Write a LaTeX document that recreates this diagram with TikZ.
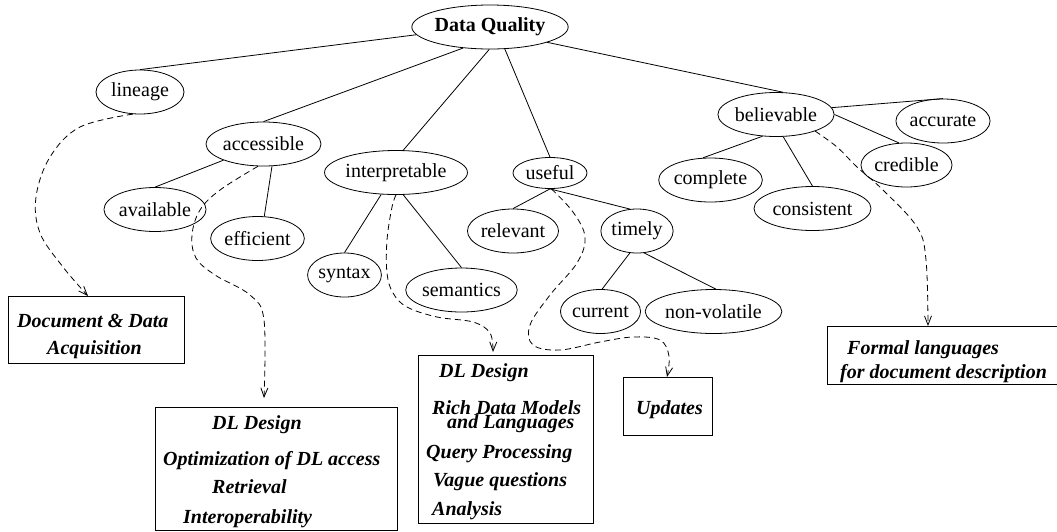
\documentclass[tikz,border=0pt]{standalone}
\usepackage{fontspec}
\setmainfont{Liberation Serif}
\usepackage{tikz}
\usetikzlibrary{calc,arrows.meta,shapes.geometric}
\tikzset{
  ov/.style={ellipse,draw,line width=0.8pt,inner sep=0pt,minimum height=44pt,font=\fontsize{20}{24}\selectfont},
  bx/.style={draw,line width=0.8pt,inner sep=0pt,anchor=north west},
  tx/.style={anchor=base west,inner sep=0pt,font=\fontsize{20}{24}\selectfont\bfseries\itshape},
  ln/.style={line width=0.8pt},
  ar/.style={-{Straight Barb[length=9pt,width=7pt]},line width=0.8pt,dash pattern=on 6pt off 4pt}
}
\begin{document}
\begin{tikzpicture}[x=1pt,y=-1pt]
\clip (0,0) rectangle (1057,531);
% quality tree
\node[ov,minimum width=146pt] (dq) at (490,27) {\bfseries Data Quality};
\node[ov,minimum width=88pt] (lin) at (140,92) {lineage};
\node[ov,minimum width=115pt] (acc) at (263.5,144) {accessible};
\node[ov,minimum width=88pt] (avail) at (155,209.5) {available};
\node[ov,minimum width=89pt] (eff) at (257.5,238.5) {efficient};
\node[ov,minimum width=132pt] (interp) at (396,172.5) {interpretable};
\node[ov,minimum width=73pt] (syn) at (344.5,275) {syntax};
\node[ov,minimum width=103pt] (sem) at (461.5,290) {semantics};
\node[ov,minimum width=74pt,minimum height=31pt] (use) at (550,173) {useful};
\node[ov,minimum width=88pt] (rel) at (513,231) {relevant};
\node[ov,minimum width=72pt] (tim) at (637,231) {timely};
\node[ov,minimum width=73pt] (cur) at (600.5,311.5) {current};
\node[ov,minimum width=109pt] (nonv) at (713.5,311.5) {non-volatile};
\node[ov,minimum width=116pt] (bel) at (776,114.5) {believable};
\node[ov,minimum width=87pt] (comp) at (710.5,180) {complete};
\node[ov,minimum width=117pt] (cons) at (812.5,208.5) {consistent};
\node[ov,minimum width=87pt] (cred) at (906.5,165) {credible};
\node[ov,minimum width=88pt] (accu) at (943,121) {accurate};

\draw[ln] (dq.186) -- (lin.north);
\draw[ln] (dq.218) -- (acc.north);
\draw[ln] (dq.268) -- (interp.72);
\draw[ln] (dq.304) -- (use.north);
\draw[ln] (dq.345) -- (bel.72);
\draw[ln] (acc.202) -- (avail.north);
\draw[ln] (acc.291) -- (eff.73);
\draw[ln] (interp.236) -- (syn.north);
\draw[ln] (interp.288) -- (sem.north);
\draw[ln] (use.south) -- (rel.north);
\draw[ln] (use.south) -- (tim.108);
\draw[ln] (tim.252) -- (cur.86);
\draw[ln] (tim.288) -- (nonv.84);
\draw[ln] (bel.238) -- (comp.109);
\draw[ln] (bel.288) -- (cons.north);
\draw[ln] (bel.east) -- (cred.109);
\draw[ln] (bel.7) -- (accu.north);

% DL topics
\node[bx,minimum width=176pt,minimum height=67pt] (b1) at (8,296) {};
\node[tx] (t1a) at (17,327) {Document \& Data};
\node[tx] (t1b) at (47,354) {Acquisition};

\node[bx,minimum width=242pt,minimum height=123pt] (b2) at (155,407) {};
\node[tx] (t2a) at (212,429) {DL Design};
\node[tx] (t2b) at (163,465) {Optimization of DL access};
\node[tx] (t2c) at (212,493) {Retrieval};
\node[tx] (t2d) at (183,523) {Interoperability};

\node[bx,minimum width=175pt,minimum height=168pt] (b3) at (418,355) {};
\node[tx] (t3a) at (439,377) {DL Design};
\node[tx] (t3b) at (432,414) {Rich Data Models};
\node[tx] (t3c) at (447,428) {and Languages};
\node[tx] (t3d) at (426,458) {Query Processing};
\node[tx] (t3e) at (433,486) {Vague questions};
\node[tx] (t3f) at (432,515) {Analysis};

\node[bx,minimum width=89pt,minimum height=58pt] (b4) at (623,377) {};
\node[tx] (t4) at (636,414) {Updates};

\node[bx,minimum width=250pt,minimum height=58pt] (b5) at (827,326) {};
\node[tx] (t5a) at (847,354) {Formal languages};
\node[tx] (t5b) at (840,378) {for document description};

\coordinate (e1) at ($(b1.north west)+(80,0)$);
\coordinate (e2) at ($(b2.north west)+(109,-9)$);
\coordinate (e3) at ($(b3.north west)+(75,-3)$);
\coordinate (e4) at ($(b4.north west)+(44,0)$);
\coordinate (e5) at ($(b5.north west)+(101,0)$);

\draw[ar] plot[smooth,tension=0.6] coordinates {(lin.252) (80,127) (50,157) (36,197) (40,233) (63,267) (e1)};
\draw[ar] plot[smooth,tension=0.6] coordinates {(acc.256) (220,190) (200,210) (192,235) (196,258) (215,275) (250,295) (264,320) (e2)};
\draw[ar] plot[smooth,tension=0.6] coordinates {(interp.south) (392,207) (387,240) (387,273) (393,293) (407,307) (437,317) (473,322) (490,333) (e3)};
\draw[ar] plot[smooth,tension=0.6] coordinates {(use.275) (573,212) (585,237) (577,263) (550,295) (530,325) (533,345) (560,350) (600,342) (633,337) (660,340) (669,356) (e4)};
\draw[ar] plot[smooth,tension=0.6] coordinates {(bel.337) (837,147) (857,167) (883,190) (917,227) (926,260) (e5)};
\end{tikzpicture}
\end{document}
